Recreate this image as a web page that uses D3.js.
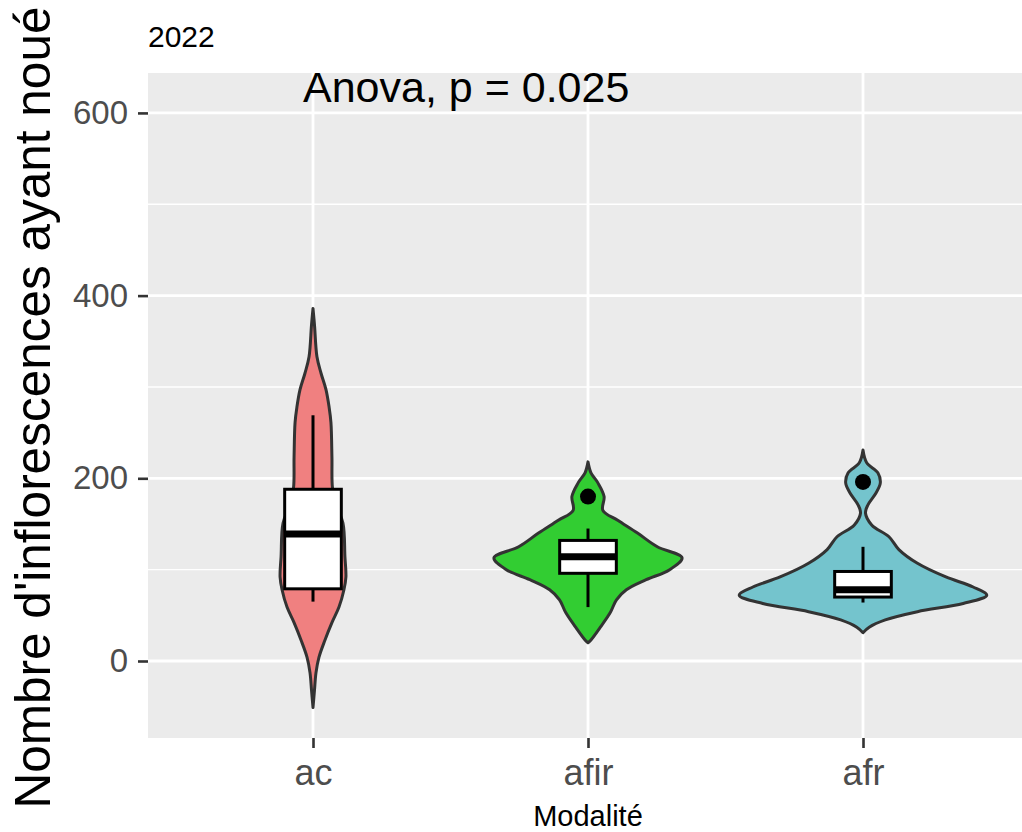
<!DOCTYPE html>
<html>
<head>
<meta charset="utf-8">
<script src="https://cdn.jsdelivr.net/npm/d3@7"></script>
<style>
  html, body { margin: 0; padding: 0; background: #ffffff; }
  svg { display: block; font-family: "Liberation Sans", Arial, Helvetica, sans-serif; }
</style>
</head>
<body>
<svg id="chart" width="1022" height="832"></svg>
<script>
// ---------- data ----------
const categories = ["ac", "afir", "afr"];
const fills = ["#F08080", "#32CD32", "#74C4CD"];
const yTicks = [0, 200, 400, 600];
const yMinor = [100, 300, 500];
const plotTitle = "2022";
const annotation = "Anova, p = 0.025";
const xTitle = "Modalité";
const yTitle = "Nombre d'inflorescences ayant noué";

// violin profiles: [value, relative half-width]
const violinAc = [
  [386, 0], [368, 0.012], [333, 0.032], [315, 0.065], [297, 0.105], [278, 0.13],
  [261, 0.145], [223, 0.153], [190, 0.157], [171, 0.185], [151, 0.242], [114, 0.258],
  [92, 0.266], [78, 0.25], [59, 0.21], [42, 0.153], [23, 0.097], [4, 0.048],
  [-13, 0.024], [-32, 0.012], [-51, 0]
];
const violinAfir = [
  [218, 0], [206, 0.024], [195, 0.08], [180, 0.13], [165, 0.12], [154, 0.24],
  [140, 0.40], [125, 0.56], [113, 0.76], [100, 0.66], [89, 0.47], [78, 0.31],
  [67, 0.23], [53, 0.18], [37, 0.10], [23, 0.024], [20, 0]
];
const violinAfr = [
  [231, 0], [217, 0.03], [206, 0.12], [195, 0.14], [184, 0.105], [171, 0.04],
  [162, 0.02], [149, 0.07], [136, 0.21], [122, 0.29], [107, 0.44], [92, 0.67],
  [81, 0.89], [72, 1.0], [63, 0.81], [54, 0.44], [45, 0.18], [37, 0.05], [31, 0]
];
const violins = [violinAc, violinAfir, violinAfr];

// boxplot stats: [lower whisker, Q1, median, Q3, upper whisker]
const boxStats = [
  [65, 79, 139, 188, 269],
  [59, 96, 114, 132, 145],
  [64, 70, 78, 98, 125]
];
const outliers = [[], [180], [196]];

// ---------- layout ----------
const svg = d3.select("#chart");
const panel = { left: 148, top: 73, bottom: 738 };
const step = 275;
const panelRight = panel.left + 3.2 * step;

const x = d3.scalePoint().domain(categories).range([panel.left, panelRight]).padding(0.6);
const y = d3.scaleLinear().domain([-84.3, 643.7]).range([panel.bottom, panel.top]);
const w = d3.scaleLinear().domain([0, 1]).range([0, 0.45 * step]);
const boxHalf = 0.103 * step;

// panel background
svg.append("rect")
  .attr("x", panel.left).attr("y", panel.top)
  .attr("width", panelRight - panel.left).attr("height", panel.bottom - panel.top)
  .attr("fill", "#EBEBEB");

// grid
svg.append("g").selectAll("line").data(yMinor).join("line")
  .attr("x1", panel.left).attr("x2", panelRight)
  .attr("y1", d => y(d)).attr("y2", d => y(d))
  .attr("stroke", "#ffffff").attr("stroke-width", 1.4);
svg.append("g").selectAll("line").data(yTicks).join("line")
  .attr("x1", panel.left).attr("x2", panelRight)
  .attr("y1", d => y(d)).attr("y2", d => y(d))
  .attr("stroke", "#ffffff").attr("stroke-width", 2.8);
svg.append("g").selectAll("line").data(categories).join("line")
  .attr("x1", d => x(d)).attr("x2", d => x(d))
  .attr("y1", panel.top).attr("y2", panel.bottom)
  .attr("stroke", "#ffffff").attr("stroke-width", 2.8);

// violins
const area = d3.area()
  .y(d => y(d[0]))
  .curve(d3.curveCatmullRom.alpha(0.5));
categories.forEach((c, i) => {
  const cx = x(c);
  svg.append("path")
    .datum(violins[i])
    .attr("d", area.x0(d => cx - w(d[1])).x1(d => cx + w(d[1])))
    .attr("fill", fills[i])
    .attr("stroke", "#333333")
    .attr("stroke-width", 3)
    .attr("stroke-linejoin", "round");
});

// boxplots
categories.forEach((c, i) => {
  const cx = x(c);
  const [lo, q1, med, q3, hi] = boxStats[i];
  const g = svg.append("g");
  g.append("line").attr("x1", cx).attr("x2", cx).attr("y1", y(q3)).attr("y2", y(hi))
    .attr("stroke", "#000").attr("stroke-width", 3);
  g.append("line").attr("x1", cx).attr("x2", cx).attr("y1", y(q1)).attr("y2", y(lo))
    .attr("stroke", "#000").attr("stroke-width", 3);
  g.append("rect")
    .attr("x", cx - boxHalf).attr("y", y(q3))
    .attr("width", 2 * boxHalf).attr("height", y(q1) - y(q3))
    .attr("fill", "#ffffff").attr("stroke", "#000").attr("stroke-width", 3);
  g.append("line").attr("x1", cx - boxHalf).attr("x2", cx + boxHalf)
    .attr("y1", y(med)).attr("y2", y(med))
    .attr("stroke", "#000").attr("stroke-width", 7);
  g.selectAll("circle").data(outliers[i]).join("circle")
    .attr("cx", cx).attr("cy", d => y(d)).attr("r", 8).attr("fill", "#000");
});

// axes
const yAxis = svg.append("g")
  .attr("transform", `translate(${panel.left},0)`)
  .call(d3.axisLeft(y).tickValues(yTicks).tickSize(10).tickPadding(10));
yAxis.select(".domain").remove();
yAxis.selectAll(".tick line").attr("stroke", "#333333").attr("stroke-width", 2.6);
yAxis.selectAll(".tick text").attr("fill", "#4D4D4D").attr("font-size", 33)
  .attr("font-family", "Liberation Sans, Arial, sans-serif");

const xAxis = svg.append("g")
  .attr("transform", `translate(0,${panel.bottom})`)
  .call(d3.axisBottom(x).tickSize(10).tickPadding(11));
xAxis.select(".domain").remove();
xAxis.selectAll(".tick line").attr("stroke", "#333333").attr("stroke-width", 2.6);
xAxis.selectAll(".tick text").attr("fill", "#4D4D4D").attr("font-size", 36)
  .attr("font-family", "Liberation Sans, Arial, sans-serif");

// texts
svg.append("text").attr("x", 148).attr("y", 47)
  .attr("font-size", 30).attr("fill", "#000").text(plotTitle);
svg.append("text").attr("x", 303).attr("y", 102)
  .attr("font-size", 43).attr("fill", "#000").text(annotation);
svg.append("text").attr("x", x("afir")).attr("y", 826)
  .attr("text-anchor", "middle").attr("font-size", 29).attr("fill", "#000").text(xTitle);
svg.append("text")
  .attr("transform", `translate(50,${(panel.top + panel.bottom) / 2 + 2}) rotate(-90)`)
  .attr("text-anchor", "middle").attr("font-size", 49.5).attr("fill", "#000").text(yTitle);
</script>
</body>
</html>
